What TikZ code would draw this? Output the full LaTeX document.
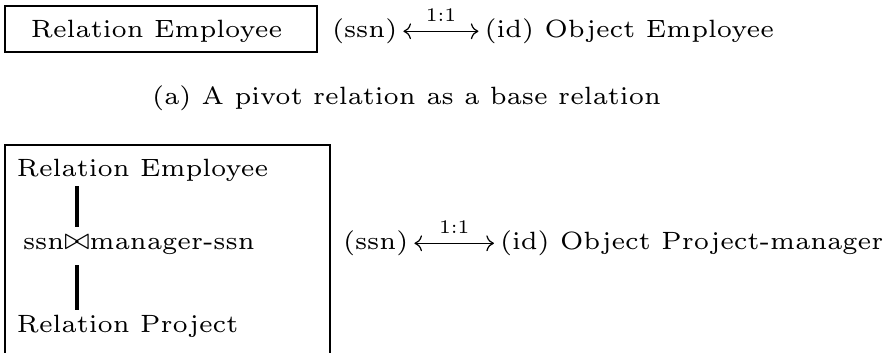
\documentclass[tikz,border=0pt]{standalone}
\usepackage{amsmath}
\usetikzlibrary{arrows.meta}
\font\rfont=cmr6 at 8.2pt
\font\rlab=cmr6 at 6.3pt
\begin{document}
\begin{tikzpicture}[x=0.328pt,y=-0.328pt,
  txt/.style={inner sep=0pt,outer sep=0pt,anchor=base west,font=\rfont},
  boxline/.style={line width=0.6pt},
  conn/.style={line width=1pt},
  maparrow/.style={{Computer Modern Rightarrow[]}-{Computer Modern Rightarrow[]},line width=0.4pt},
  lab/.style={inner sep=0pt,font=\rlab}]
\useasboundingbox (0,0) rectangle (887,353);
% (a) row
\draw[boxline] (5,6) rectangle (317,52);
\node[txt] (emp1) at (31,38) {Relation Employee};
\node[txt] (ssn1) at (332,38) {(ssn)};
\node[txt] (id1) at (484.5,38) {(id) Object Employee};
\draw[maparrow] ([xshift=2pt,yshift=2.2pt]ssn1.base east) -- ([xshift=-2pt,yshift=2.2pt]id1.base west)
  node[lab,midway,above=3pt] {1:1};
\node[txt] (capa) at (152,105) {(a) A pivot relation as a base relation};
% (b) row
\draw[boxline] (5,353) -- (5,145) -- (330,145) -- (330,353);
\node[txt] (emp2) at (17,177) {Relation Employee};
\node[txt] (js) at (23,250) {ssn};
\node[txt] (bt) at (js.base east) {$\bowtie$};
\node[txt] (jm) at (bt.base east) {manager-ssn};
\node[txt] (proj2) at (17,332) {Relation Project};
\draw[conn] ([yshift=-1.5pt]bt.center |- emp2.south) -- ([yshift=3pt]bt.north);
\draw[conn] ([yshift=-5pt]bt.south) -- ([yshift=1.5pt]bt.center |- proj2.north);
\node[txt] (ssn2) at (343,250) {(ssn)};
\node[txt] (id2) at (500,250) {(id) Object Project-manager};
\draw[maparrow] ([xshift=2pt,yshift=2.2pt]ssn2.base east) -- ([xshift=-2pt,yshift=2.2pt]id2.base west)
  node[lab,midway,above=3pt] {1:1};
\end{tikzpicture}
\end{document}
